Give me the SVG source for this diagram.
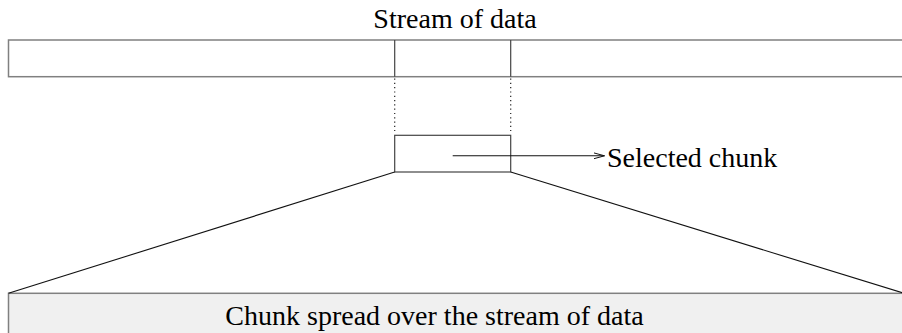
<svg xmlns="http://www.w3.org/2000/svg" width="902" height="333" viewBox="0 0 902 333">
  <defs>
    <style>
      .txt { font-family: "Liberation Serif", "Times New Roman", serif; font-size: 28px; fill: #000; }
      .frame { fill: #fff; stroke: #808080; stroke-width: 1.5; }
      .band { fill: #f0f0f0; stroke: #808080; stroke-width: 1.5; }
      .div { stroke: #444; stroke-width: 1.2; fill: none; }
      .dot { stroke: #222; stroke-width: 1.2; stroke-dasharray: 1.2 3.1; fill: none; }
      .line { stroke: #111; stroke-width: 1.1; fill: none; }
    </style>
    <marker id="openArrow" markerWidth="12" markerHeight="8" refX="11" refY="4" orient="auto" markerUnits="userSpaceOnUse">
      <path d="M0,1 L11,4 L0,7" fill="none" stroke="#111" stroke-width="1"/>
    </marker>
  </defs>

  <!-- data stream bar -->
  <g id="stream">
    <text class="txt" x="455" y="28.3" text-anchor="middle">Stream of data</text>
    <rect class="frame" x="8.5" y="40" width="900" height="36.7"/>
    <line class="div" x1="394.7" y1="40" x2="394.7" y2="76.7"/>
    <line class="div" x1="510.7" y1="40" x2="510.7" y2="76.7"/>
  </g>

  <!-- the extracted chunk -->
  <g id="chunk">
    <rect class="div" x="394.7" y="135.3" width="116" height="36.7"/>
  </g>

  <!-- spread band -->
  <g id="spread">
    <rect class="band" x="8.5" y="293.3" width="900" height="60"/>
    <text class="txt" x="434.5" y="325" text-anchor="middle">Chunk spread over the stream of data</text>
  </g>

  <!-- label for the chunk -->
  <g id="label">
    <text class="txt" x="607" y="166.7">Selected chunk</text>
  </g>

  <!-- connectors -->
  <g id="connectors">
    <line class="dot" x1="394.7" y1="78.5" x2="394.7" y2="131"/>
    <line class="dot" x1="510.7" y1="78.5" x2="510.7" y2="131"/>
    <line class="line" x1="394.7" y1="172" x2="8.5" y2="293.3"/>
    <line class="line" x1="510.7" y1="172" x2="904" y2="293.3"/>
    <line class="line" x1="452.7" y1="155.8" x2="604.5" y2="155.8" marker-end="url(#openArrow)"/>
  </g>
</svg>
